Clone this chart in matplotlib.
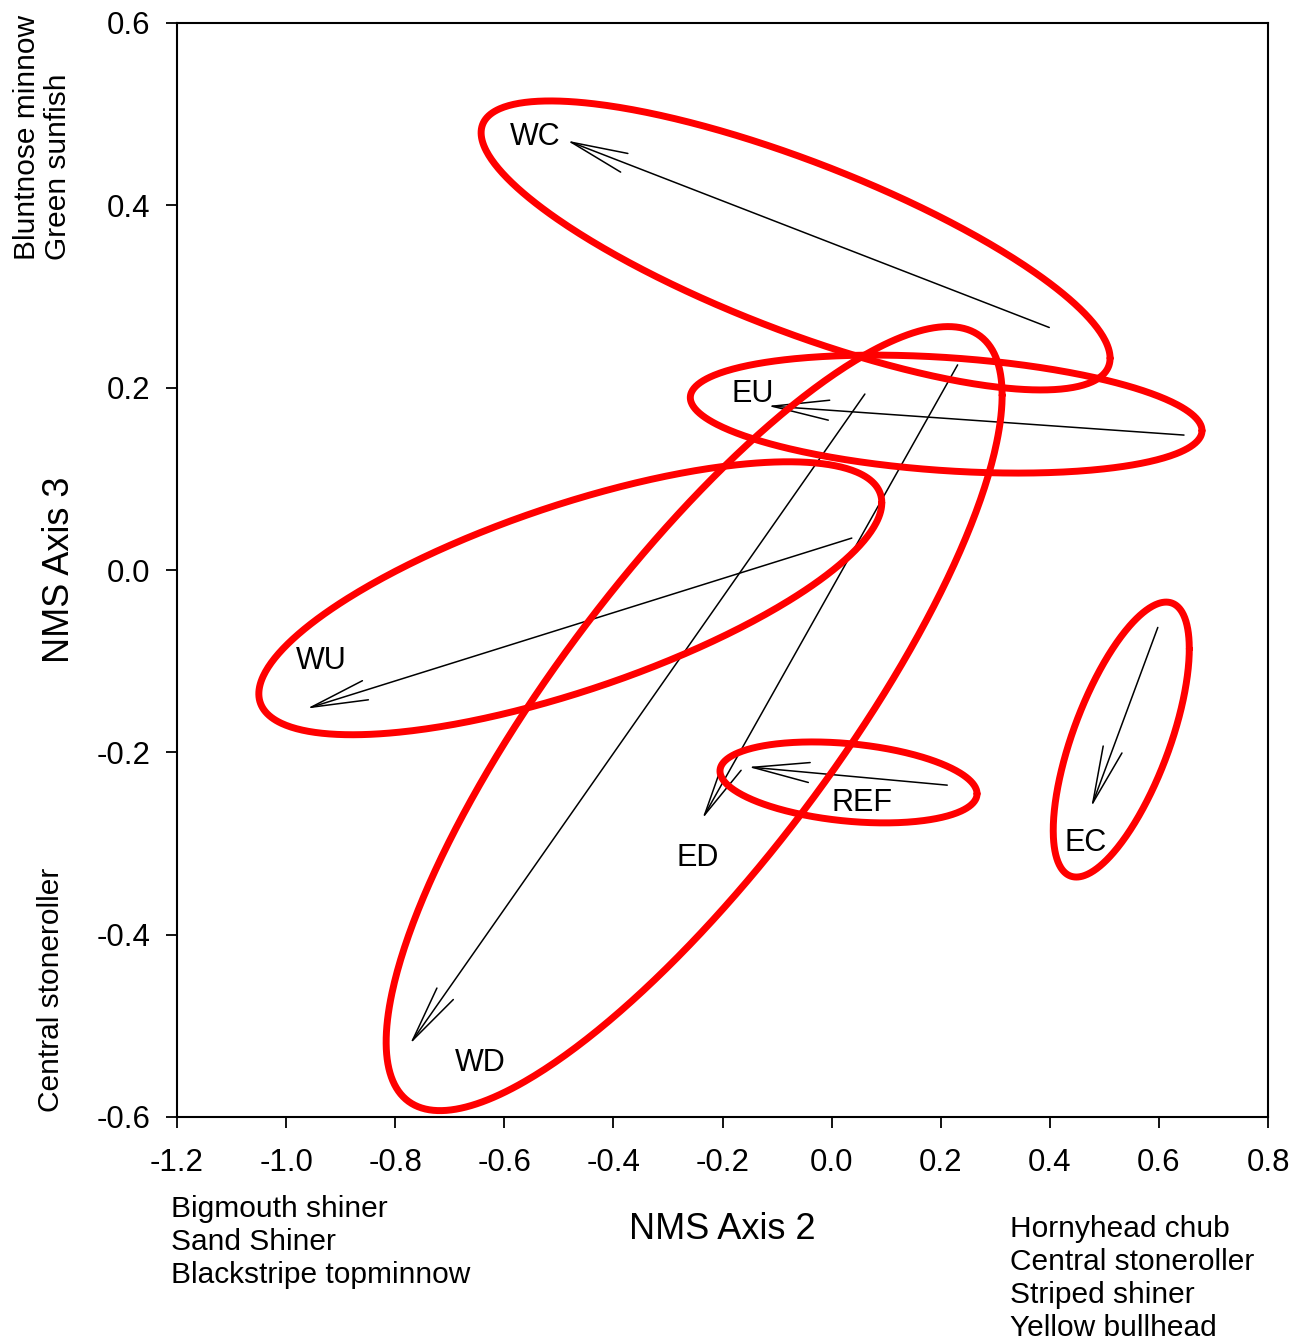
import numpy as np
import matplotlib
matplotlib.use("Agg")
import matplotlib.pyplot as plt

plt.rcParams['font.family'] = ['Liberation Sans', 'DejaVu Sans']
plt.rcParams['axes.unicode_minus'] = False

# site groups: vector start (before) -> tip (after)
groups = ["WC", "EU", "WU", "ED", "WD", "REF", "EC"]
start_x = [0.399, 0.646, 0.037, 0.231, 0.061, 0.212, 0.598]
start_y = [0.266, 0.148, 0.035, 0.225, 0.193, -0.236, -0.063]
tip_x = [-0.485, -0.117, -0.962, -0.237, -0.773, -0.153, 0.476]
tip_y = [0.471, 0.180, -0.152, -0.273, -0.520, -0.216, -0.260]

# label positions for each group
label_x = [-0.544, -0.144, -0.936, -0.245, -0.645, 0.056, 0.465]
label_y = [0.475, 0.193, -0.100, -0.316, -0.541, -0.256, -0.299]

# confidence ellipses: centre, spread on each axis, correlation
ell_cx = [-0.066, 0.210, -0.479, -0.252, 0.031, 0.531]
ell_cy = [0.356, 0.171, -0.031, -0.163, -0.233, -0.186]
ell_sx = [0.5765, 0.469, 0.571, 0.5646, 0.2356, 0.1247]
ell_sy = [0.1585, 0.0647, 0.1497, 0.430, 0.0444, 0.1508]
ell_r = [-0.78, -0.28, 0.70, 0.825, -0.28, 0.66]

xticks = [-1.2, -1.0, -0.8, -0.6, -0.4, -0.2, 0.0, 0.2, 0.4, 0.6, 0.8]
yticks = [-0.6, -0.4, -0.2, 0.0, 0.2, 0.4, 0.6]

W, H = 1293, 1343
fig = plt.figure(figsize=(W / 100, H / 100), dpi=100)
ax = fig.add_axes([177 / W, 1 - 1117 / H, (1268 - 177) / W, (1117 - 23) / H])

t = np.linspace(0, 2 * np.pi, 500)
for cx, cy, sx, sy, r in zip(ell_cx, ell_cy, ell_sx, ell_sy, ell_r):
    ex = cx + sx * np.cos(t)
    ey = cy + sy * (r * np.cos(t) + np.sqrt(1 - r ** 2) * np.sin(t))
    ax.plot(ex, ey, color='#ff0000', lw=5, zorder=3, solid_capstyle='round')

for x0, y0, x1, y1 in zip(start_x, start_y, tip_x, tip_y):
    ax.annotate('', xy=(x1, y1), xytext=(x0, y0),
                arrowprops=dict(arrowstyle='->,head_length=2.05,head_width=0.36',
                                mutation_scale=20, lw=1.1, color='black',
                                shrinkA=0, shrinkB=0), zorder=2)

for g, lx, ly in zip(groups, label_x, label_y):
    ax.text(lx, ly, g, fontsize=22, ha='center', va='center', zorder=4)

ax.set_xlim(-1.2, 0.8)
ax.set_ylim(-0.6, 0.6)
ax.set_xticks(xticks)
ax.set_yticks(yticks)
ax.set_xticklabels([f"{v:.1f}" for v in xticks])
ax.set_yticklabels([f"{v:.1f}" for v in yticks])
ax.tick_params(direction='out', length=8, width=1.3, labelsize=22.5, pad=11)
ax.tick_params(axis='x', pad=14)
for s in ax.spines.values():
    s.set_linewidth(1.5)

ax.set_xlabel("NMS Axis 2", fontsize=26, labelpad=25)
ax.set_ylabel("NMS Axis 3", fontsize=26, labelpad=14)

fig.text(13 / W, 1 - 260 / H, "Bluntnose minnow\nGreen sunfish", rotation=90,
         ha='left', va='bottom', multialignment='left', fontsize=21.5, linespacing=1.12)
fig.text(37 / W, 1 - 1112 / H, "Central stoneroller", rotation=90,
         ha='left', va='bottom', fontsize=21.5)
fig.text(171 / W, 1 - 1195 / H, "Bigmouth shiner\nSand Shiner\nBlackstripe topminnow",
         ha='left', va='top', fontsize=21.5, linespacing=1.23)
fig.text(1010 / W, 1 - 1215 / H, "Hornyhead chub\nCentral stoneroller\nStriped shiner\nYellow bullhead",
         ha='left', va='top', fontsize=21.5, linespacing=1.23)

fig.savefig("out.png", dpi=100)
